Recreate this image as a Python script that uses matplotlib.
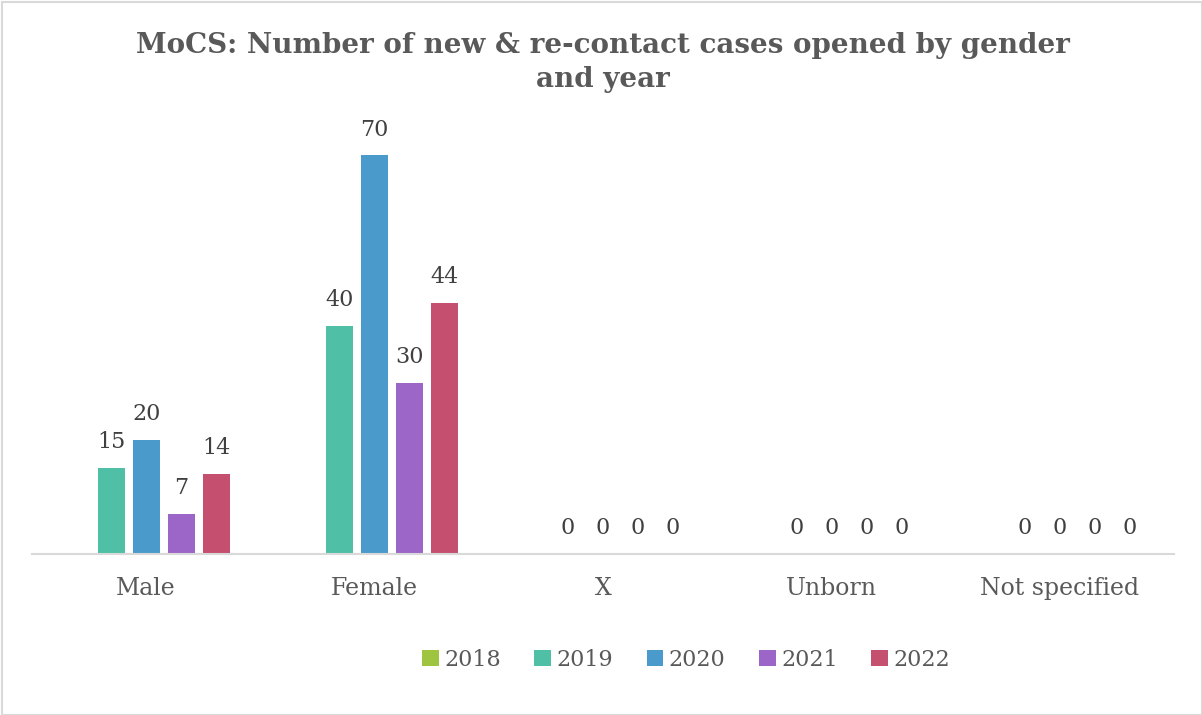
import numpy as np
import matplotlib.pyplot as plt
from matplotlib.patches import Rectangle

categories = ['Male', 'Female', 'X', 'Unborn', 'Not specified']
years = ['2018', '2019', '2020', '2021', '2022']
v2018 = [np.nan, np.nan, np.nan, np.nan, np.nan]
v2019 = [15, 40, 0, 0, 0]
v2020 = [20, 70, 0, 0, 0]
v2021 = [7, 30, 0, 0, 0]
v2022 = [14, 44, 0, 0, 0]
series = [v2018, v2019, v2020, v2021, v2022]
colors = ['#9FC43F', '#4FBFA5', '#4A9BCB', '#9B66C8', '#C44F6E']

plt.rcParams['font.family'] = ['DejaVu Serif']

fig = plt.figure(figsize=(12.02, 7.15), dpi=100)
ax = fig.add_axes([32/1202, 1 - 553.5/715, 1142/1202, 455/715])

x = np.arange(len(categories))
pitch = 35/228.4
width = 27/228.4
for i, (yr, vals, c) in enumerate(zip(years, series, colors)):
    pos = x + (i - 2)*pitch
    ax.bar(pos, vals, width, color=c, label=yr)
    for p, v in zip(pos, vals):
        if not np.isnan(v):
            ax.text(p, v + 2.6, f'{v:g}', ha='center', va='bottom',
                    fontsize=16, color='#404040')

ax.set_xlim(-0.5, 4.5)
ax.set_ylim(0, 80)
ax.set_yticks([])
ax.set_xticks(x)
ax.set_xticklabels(categories, fontsize=17, color='#595959')
ax.tick_params(axis='x', length=0, pad=17)
for s in ['top', 'right', 'left']:
    ax.spines[s].set_visible(False)
ax.spines['bottom'].set_color('#D9D9D9')
ax.spines['bottom'].set_linewidth(1.5)

fig.text(603/1202, 1 - 62.5/715, 'MoCS: Number of new & re-contact cases opened by gender\nand year',
         ha='center', va='center', fontsize=20, fontweight='bold', color='#595959',
         linespacing=1.38)

leg = fig.legend(loc='center', bbox_to_anchor=(686/1202, 1 - 660/715), ncol=5,
                 frameon=False, fontsize=16, handlelength=0.75, handleheight=0.75,
                 handletextpad=0.25, columnspacing=1.5)
for t in leg.get_texts():
    t.set_color('#595959')

fig.patches.append(Rectangle((2/1202, 0), 1 - 2/1202, 1 - 2/715, transform=fig.transFigure,
                             fill=False, edgecolor='#D9D9D9', linewidth=1.5))

fig.savefig('out.png', dpi=100)
